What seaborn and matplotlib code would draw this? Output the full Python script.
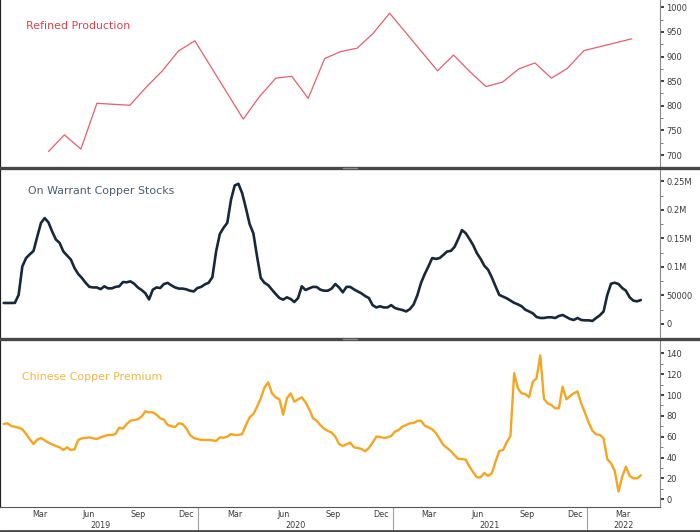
"""
Copper dashboard: refined production, on-warrant stocks, Chinese premium
"""

import pandas as pd
import numpy as np
import matplotlib
matplotlib.use("Agg")
import matplotlib.pyplot as plt
import matplotlib.dates as mdates
from matplotlib.lines import Line2D
import seaborn as sns

sns.set_theme(style="white")
plt.rcParams["font.family"] = ["DejaVu Sans"]

# DATA

refined_months = [
    "2019-03", "2019-04", "2019-05", "2019-06", "2019-07", "2019-08",
    "2019-09", "2019-10", "2019-11", "2019-12",
    "2020-03", "2020-04", "2020-05", "2020-06", "2020-07", "2020-08",
    "2020-09", "2020-10", "2020-11", "2020-12",
    "2021-03", "2021-04", "2021-05", "2021-06", "2021-07", "2021-08",
    "2021-09", "2021-10", "2021-11", "2021-12",
    "2022-03",
]
refined_vals = [
    707, 741, 712, 805, 803, 801, 837, 871, 911, 932,
    773, 818, 856, 860, 815, 896, 910, 917, 947, 988,
    871, 903, 869, 839, 848, 875, 887, 856, 876, 912,
    936,
]

# weekly readings, thousand tonnes, first week starting 2019-01-01
warrant_start = "2019-01-01"
warrant_k = [
    36.8, 36.8, 36.8, 37, 51, 101, 115.5, 122, 128, 153,
    177, 185.5, 178, 162, 148, 142, 127, 120, 113, 98,
    87.5, 80.5, 72, 65, 64, 64, 61, 66, 62.4, 62.4,
    65, 66, 73.5, 73, 74.7, 70.6, 64, 59.5, 54, 43,
    60, 64, 63, 70, 72, 67.7, 64, 62, 62, 60.7,
    58.3, 57, 63, 65, 69.4, 72.3, 82, 127, 157.5, 168.6,
    177, 217.6, 242.7, 245.6, 229, 203, 175, 159, 118, 80.5,
    72, 68, 60, 52.5, 45.5, 42.6, 46.7, 43.8, 38.5, 45.5,
    66, 59.5, 62.4, 65, 64.8, 60, 58.3, 58.3, 62, 70,
    64, 55.4, 65, 65, 60.7, 57, 53.7, 49, 45.5, 33,
    29, 31, 29, 29, 33, 28, 26, 24.5, 22, 26,
    34, 50, 72, 87.5, 101, 115.5, 114, 115.5, 121, 127,
    128, 135, 149, 164.5, 159, 149, 138, 124, 114, 102,
    95, 81.7, 66, 51, 48, 45, 41, 37, 34.4, 31,
    25, 22, 18.7, 12.3, 10.5, 10.5, 11.7, 11.7, 10.5, 14,
    15.8, 12.3, 8.8, 7, 10.5, 7, 6.4, 6.4, 5.3, 10.5,
    15.2, 22, 51, 70.6, 72.3, 70, 63, 58.3, 46.7, 40.8,
    39.7, 42,
]

premium_start = "2019-01-01"
premium_vals = [
    72.2, 72.9, 70.3, 69.4, 68.7, 67.1, 62.6, 57.5, 53, 57.2,
    58.8, 56.6, 54.3, 52.7, 51.1, 49.9, 47.3, 49.9, 47.3, 47.9,
    56.9, 58.5, 58.8, 59.4, 58.5, 57.8, 59.4, 60.7, 61.7, 61.7,
    62.6, 68.7, 67.8, 72.2, 75.4, 76.1, 76.7, 79.3, 84.4, 83.4,
    83.4, 81.2, 77.7, 76.4, 71.3, 70, 69.4, 72.9, 72.2, 68,
    61.7, 58.8, 57.8, 56.9, 56.9, 56.9, 56.6, 55.9, 59.4, 59.1,
    60.1, 62.6, 61.7, 61.7, 62.6, 71.3, 78.6, 81.8, 88.8, 96.8,
    107.4, 112.2, 101.6, 97.8, 95.9, 81.2, 96.8, 101.6, 93.6, 95.9,
    97.8, 93, 86.3, 77.7, 75.4, 71, 67.8, 65.5, 64, 60,
    53, 51.1, 52.7, 54.3, 49.9, 49.2, 48.3, 46, 49.2, 54.3,
    60.1, 59.8, 58.8, 59.4, 60.7, 64.9, 66.5, 69.7, 71.3, 72.9,
    73.2, 75.1, 75.4, 70.6, 69, 67.1, 63.6, 57.8, 52.1, 49.2,
    46.3, 42.2, 38.7, 38.7, 38, 31.3, 25.9, 21.1, 21.1, 25.2,
    22.4, 24.9, 36.1, 46.3, 47.3, 54.7, 60.7, 121, 106.4, 101.6,
    101, 97.8, 112.8, 116, 138, 96.2, 92, 90.4, 87.3, 87.3,
    108, 95.9, 99, 101.6, 103.5, 92, 83, 73.5, 65.8, 62.3,
    61.7, 58.5, 38.4, 34.5, 27.2, 7.4, 21.7, 31.3, 22.4, 20.1,
    20.1, 23,
]

titles = ["Refined Production", "On Warrant Copper Stocks", "Chinese Copper Premium"]
title_colors = ["#d8434f", "#4a5d72", "#f2b447"]
line_colors = ["#e3606c", "#17283a", "#f4a623"]

top_ticks = [700, 750, 800, 850, 900, 950, 1000]
mid_ticks = [0, 50, 100, 150, 200, 250]
mid_labels = ["0", "50000", "0.1M", "0.15M", "0.2M", "0.25M"]
bot_ticks = [0, 20, 40, 60, 80, 100, 120, 140]

month_labels = ["Mar", "Jun", "Sep", "Dec"]
years = [2019, 2020, 2021, 2022]

# FRAME

refined_dates = (pd.to_datetime(refined_months) + pd.offsets.MonthEnd(0)
                 - pd.Timedelta(days=5))
warrant_dates = pd.date_range(warrant_start, periods=len(warrant_k), freq="7D")
premium_dates = pd.date_range(premium_start, periods=len(premium_vals), freq="7D")

x_lo = pd.Timestamp("2018-12-25")
x_hi = pd.Timestamp("2022-05-18")

W, H = 700, 532
fig = plt.figure(figsize=(W / 100, H / 100), dpi=100)
aw = 660 / W
ax1 = fig.add_axes([0, 1 - 166 / H, aw, 166 / H])
ax2 = fig.add_axes([0, 1 - 337 / H, aw, 168 / H])
ax3 = fig.add_axes([0, 1 - 507 / H, aw, 167 / H])
axes = [ax1, ax2, ax3]

sns.lineplot(x=refined_dates, y=refined_vals, ax=ax1, color=line_colors[0], linewidth=0.9)
sns.lineplot(x=warrant_dates, y=warrant_k, ax=ax2, color=line_colors[1], linewidth=1.9)
sns.lineplot(x=premium_dates, y=premium_vals, ax=ax3, color=line_colors[2], linewidth=1.7)

ax1.set_ylim(677.7, 1014.8)
ax2.set_ylim(-22.8, 271.5)
ax3.set_ylim(-7.4, 152.8)

ax1.set_yticks(top_ticks)
ax1.set_yticks(np.arange(725, 1000, 50), minor=True)
ax2.set_yticks(mid_ticks)
ax2.set_yticklabels(mid_labels)
ax2.set_yticks(np.arange(25, 275, 50), minor=True)
ax3.set_yticks(bot_ticks)
ax3.set_yticks(np.arange(10, 150, 20), minor=True)

title_pos = [(0.040, 0.843), (0.042, 0.868), (0.034, 0.777)]
for ax, t, c, (tx, ty) in zip(axes, titles, title_colors, title_pos):
    ax.set_xlim(x_lo, x_hi)
    ax.set_xlabel("")
    ax.set_ylabel("")
    ax.yaxis.tick_right()
    ax.tick_params(axis="y", which="major", direction="out", length=3, width=1.3,
                   color="#333333", pad=1.5, labelsize=6, labelcolor="#3a3a3a")
    ax.tick_params(axis="y", which="minor", direction="out", length=2, width=0.6,
                   color="#666666")
    for s in ["top", "bottom"]:
        ax.spines[s].set_visible(False)
    ax.spines["right"].set_color("#8a8a8a")
    ax.spines["right"].set_linewidth(0.8)
    ax.spines["left"].set_color("#222222")
    ax.spines["left"].set_linewidth(1.6)
    ax.text(tx, ty, t, transform=ax.transAxes, color=c, fontsize=7.9,
            ha="left", va="center")
    if ax is not ax3:
        ax.set_xticks([])

# bottom date axis
ax3.spines["bottom"].set_visible(True)
ax3.spines["bottom"].set_color("#555555")
ax3.spines["bottom"].set_linewidth(0.8)
label_ticks = [pd.Timestamp(f"{y}-{m:02d}-10") for y in years for m in (3, 6, 9, 12)
               if pd.Timestamp(f"{y}-{m:02d}-10") < x_hi]
ax3.set_xticks(label_ticks)
ax3.set_xticklabels([month_labels[(d.month // 3) - 1] for d in label_ticks])
ax3.xaxis.set_minor_locator(mdates.MonthLocator())
ax3.tick_params(axis="x", which="major", length=0, pad=2.5, labelsize=5.8,
                labelcolor="#3a3a3a")
ax3.tick_params(axis="x", which="minor", direction="in", length=3, width=0.6,
                color="#555555")

xtr = ax3.get_xaxis_transform()
for y in years:
    jan = pd.Timestamp(f"{y}-01-01")
    if y > years[0]:
        ax3.plot([jan, jan], [0, -0.16], transform=xtr, color="#a0a0a0",
                 lw=0.8, clip_on=False)
    lo = max(jan, x_lo)
    hi = min(pd.Timestamp(f"{y + 1}-01-01"), x_hi)
    ax3.text(lo + (hi - lo) / 2, -0.108, str(y), transform=xtr, ha="center",
             va="center", fontsize=5.8, color="#3a3a3a")

# panel separators with the small grip mark in the middle
for ypx, lw in [(167.5, 2.4), (338.5, 2.4), (531, 2.0)]:
    yf = 1 - ypx / H
    fig.add_artist(Line2D([0, 1], [yf, yf], transform=fig.transFigure,
                          color="#484848", lw=lw))
    if ypx < 500:
        fig.add_artist(Line2D([343 / W, 357 / W], [yf, yf], transform=fig.transFigure,
                              color="#8c8c8c", lw=1.0))

plt.savefig("out.png", dpi=100)
